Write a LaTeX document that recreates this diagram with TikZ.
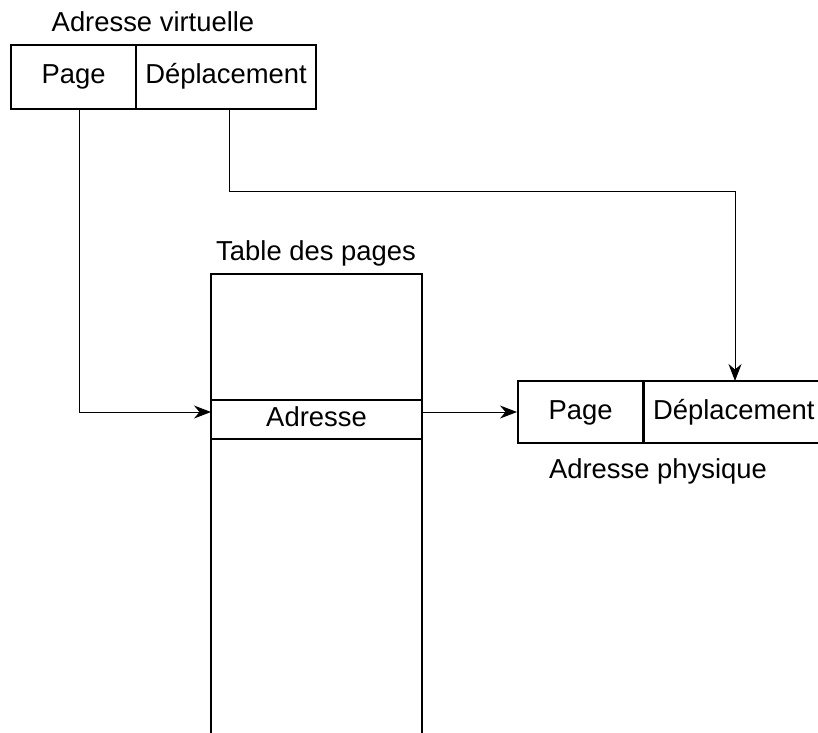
\documentclass[tikz,border=0pt]{standalone}
\usepackage{fontspec}
\setmainfont{Liberation Sans}
\usetikzlibrary{arrows.meta}
\newcommand{\lbl}{\fontsize{27.4}{32}\selectfont}
\begin{document}
\begin{tikzpicture}[x=1pt,y=-1pt,
  field/.style={draw,line width=2pt,inner sep=0pt,minimum height=64pt,font=\lbl,
    text height=19.5pt,text depth=5.5pt},
  caption/.style={inner sep=0pt,font=\lbl},
  conn/.style={line width=1pt,-{Stealth[length=17pt,width=13pt,inset=5.5pt]}}]
\useasboundingbox (0,0) rectangle (818,732);

% virtual address
\node[caption] (vlabel) at (153,22) {Adresse virtuelle};
\node[field,minimum width=125pt] (vp) at (73.5,76.5) {Page};
\node[field,minimum width=180pt] (vd) at (226,76.5) {Déplacement};

% page table (open at the bottom)
\node[caption] (tlabel) at (316,253) {Table des pages};
\draw[line width=2pt] (211,745) -- (211,274) -- (422,274) -- (422,745);
\node[draw,line width=2pt,inner sep=0pt,minimum width=211pt,minimum height=39pt,font=\lbl,
  text height=19.5pt,text depth=5.5pt] (row) at (316.5,419.5) {Adresse};

% physical address (runs past the right edge)
\node[field,minimum width=125pt,minimum height=62pt] (pp) at (580.5,412) {Page};
\node[field,minimum height=62pt,text width=200pt,align=left,inner xsep=0pt,
  anchor=west] (pd) at (643,412) {\hspace*{9pt}Déplacement};
\node[caption] (plabel) at (658,471) {Adresse physique};

% connectors
\coordinate (pgout) at (79,109);
\coordinate (rowin) at (211,412);
\coordinate (dpout) at (229,109);
\coordinate (dpbend) at (229,191);
\coordinate (dpin) at (735,381);
\draw[conn] (pgout) |- (rowin);
\draw[conn] (row.east |- rowin) -- (pp.west);
\draw[conn] (dpout) -- (dpbend) -| (dpin);
\end{tikzpicture}
\end{document}
